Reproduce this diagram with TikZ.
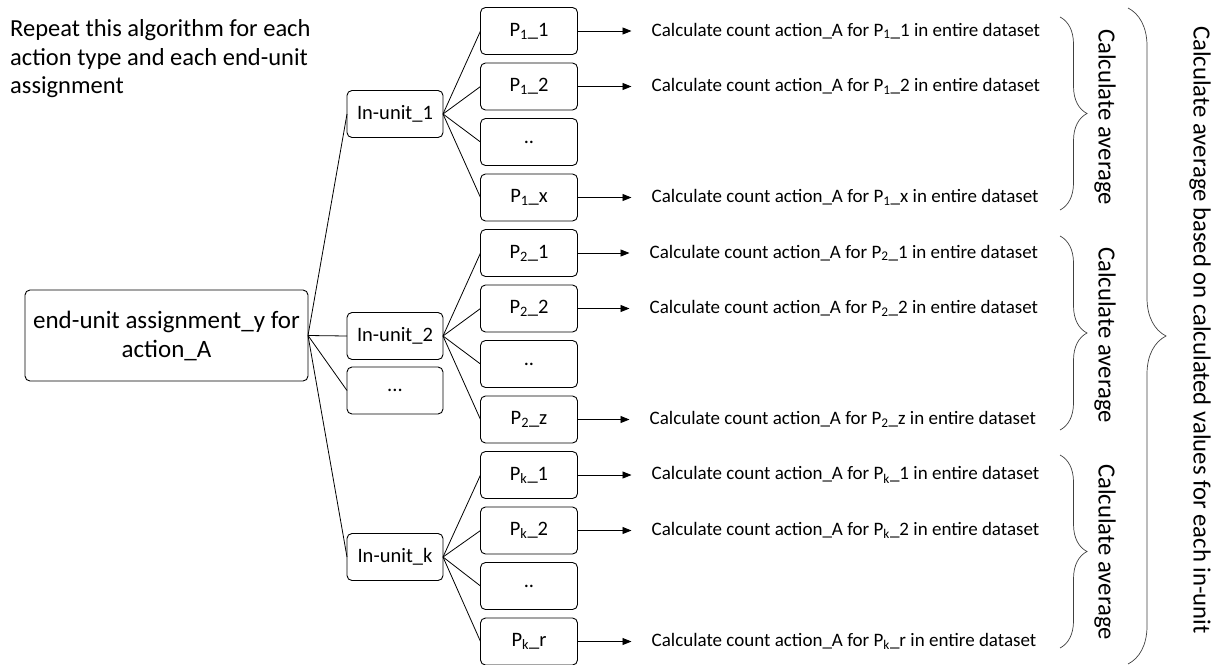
\documentclass[tikz,border=0pt]{standalone}
\usepackage{fontspec}
\setmainfont{Carlito}
\usetikzlibrary{positioning, arrows.meta, decorations.pathreplacing}

\begin{document}
\begin{tikzpicture}[
  x=1pt, y=-1pt,
  font=\fontsize{20.5}{24}\selectfont,
  node distance=8.5pt,
  box/.style={draw, rounded corners=5pt, line width=0.9pt, outer sep=0pt, minimum width=96pt, minimum height=47pt, inner sep=2pt, align=center},
  root/.style={box, minimum width=283pt, minimum height=91pt, font=\fontsize{25}{29}\selectfont},
  part/.style={box, minimum width=97pt},
  cnt/.style={inner sep=0pt, font=\fontsize{19}{22}\selectfont},
  avg/.style={rotate=-90, inner sep=0pt, font=\fontsize{24.7}{28}\selectfont},
  link/.style={line width=0.8pt},
  flow/.style={->, >={Triangle[length=9pt,width=7pt]}, line width=0.8pt, shorten >=20pt},
  brc/.style={decorate, decoration={brace, amplitude=27pt}, line width=0.7pt, draw=black!75}
]
\useasboundingbox (0,0) rectangle (1225,664);

% note and root
\node[anchor=north west, inner sep=0pt, align=left, font=\fontsize{24.5}{28.5}\selectfont] (note) at (10,19.5)
  {Repeat this algorithm for each\\action type and each end-unit\\assignment};
\node[root] (main) at (166.5,335.5) {end-unit assignment\_y for\\action\_A};

% in-units
\node[box] (in1) at (395,114) {In-unit\_1};
\node[box] (in2) at (395,336) {In-unit\_2};
\node[box, below=7.5pt of in2] (in3) {...};
\node[box] (ink) at (395,557) {In-unit\_k};
\draw[link] (main.east) -- (in1.west);
\draw[link] (main.east) -- (in2.west);
\draw[link] (main.east) -- (in3.west);
\draw[link] (main.east) -- (ink.west);

% Group 1
\node[part] (p11) at (529,31) {P\textsubscript{1}\_1};
\node[part, below=of p11] (p12) {P\textsubscript{1}\_2};
\node[part, below=of p12] (p13) {..};
\node[part, below=of p13] (p1x) {P\textsubscript{1}\_x};
\node[cnt, right=74pt of p11] (t11) {Calculate count action\_A for P\textsubscript{1}\_1 in entire dataset};
\node[cnt, right=74pt of p12] (t12) {Calculate count action\_A for P\textsubscript{1}\_2 in entire dataset};
\node[cnt, right=74pt of p1x] (t1x) {Calculate count action\_A for P\textsubscript{1}\_x in entire dataset};
\draw[link] (in1.east) -- (p11.west);
\draw[link] (in1.east) -- (p12.west);
\draw[link] (in1.east) -- (p13.west);
\draw[link] (in1.east) -- (p1x.west);
\draw[flow] (p11) -- (t11);
\draw[flow] (p12) -- (t12);
\draw[flow] (p1x) -- (t1x);

% Group 2
\node[part, below=of p1x] (p21) {P\textsubscript{2}\_1};
\node[part, below=of p21] (p22) {P\textsubscript{2}\_2};
\node[part, below=of p22] (p23) {..};
\node[part, below=of p23] (p2z) {P\textsubscript{2}\_z};
\node[cnt, right=72pt of p21] (t21) {Calculate count action\_A for P\textsubscript{2}\_1 in entire dataset};
\node[cnt, right=72pt of p22] (t22) {Calculate count action\_A for P\textsubscript{2}\_2 in entire dataset};
\node[cnt, right=72pt of p2z] (t2z) {Calculate count action\_A for P\textsubscript{2}\_z in entire dataset};
\draw[link] (in2.east) -- (p21.west);
\draw[link] (in2.east) -- (p22.west);
\draw[link] (in2.east) -- (p23.west);
\draw[link] (in2.east) -- (p2z.west);
\draw[flow] (p21) -- (t21);
\draw[flow] (p22) -- (t22);
\draw[flow] (p2z) -- (t2z);

% Group k
\node[part, below=of p2z] (pk1) {P\textsubscript{k}\_1};
\node[part, below=of pk1] (pk2) {P\textsubscript{k}\_2};
\node[part, below=of pk2] (pk3) {..};
\node[part, below=of pk3] (pkr) {P\textsubscript{k}\_r};
\node[cnt, right=74pt of pk1] (tk1) {Calculate count action\_A for P\textsubscript{k}\_1 in entire dataset};
\node[cnt, right=74pt of pk2] (tk2) {Calculate count action\_A for P\textsubscript{k}\_2 in entire dataset};
\node[cnt, right=74pt of pkr] (tkr) {Calculate count action\_A for P\textsubscript{k}\_r in entire dataset};
\draw[link] (ink.east) -- (pk1.west);
\draw[link] (ink.east) -- (pk2.west);
\draw[link] (ink.east) -- (pk3.west);
\draw[link] (ink.east) -- (pkr.west);
\draw[flow] (pk1) -- (tk1);
\draw[flow] (pk2) -- (tk2);
\draw[flow] (pkr) -- (tkr);

% braces
\draw[brc] (1060,17) -- (1060,210);
\draw[brc] (1060,236) -- (1060,430);
\draw[brc] (1060,455) -- (1060,648);
\node[avg] (avg1) at (1105,117) {Calculate average};
\node[avg] (avg2) at (1105,335) {Calculate average};
\node[avg] (avg3) at (1105,552) {Calculate average};
\draw[brc, decoration={amplitude=38pt}] (1128,8) -- (1128,664);
\node[avg] (all) at (1200,330) {Calculate average based on calculated values for each in-unit};
\end{tikzpicture}
\end{document}
